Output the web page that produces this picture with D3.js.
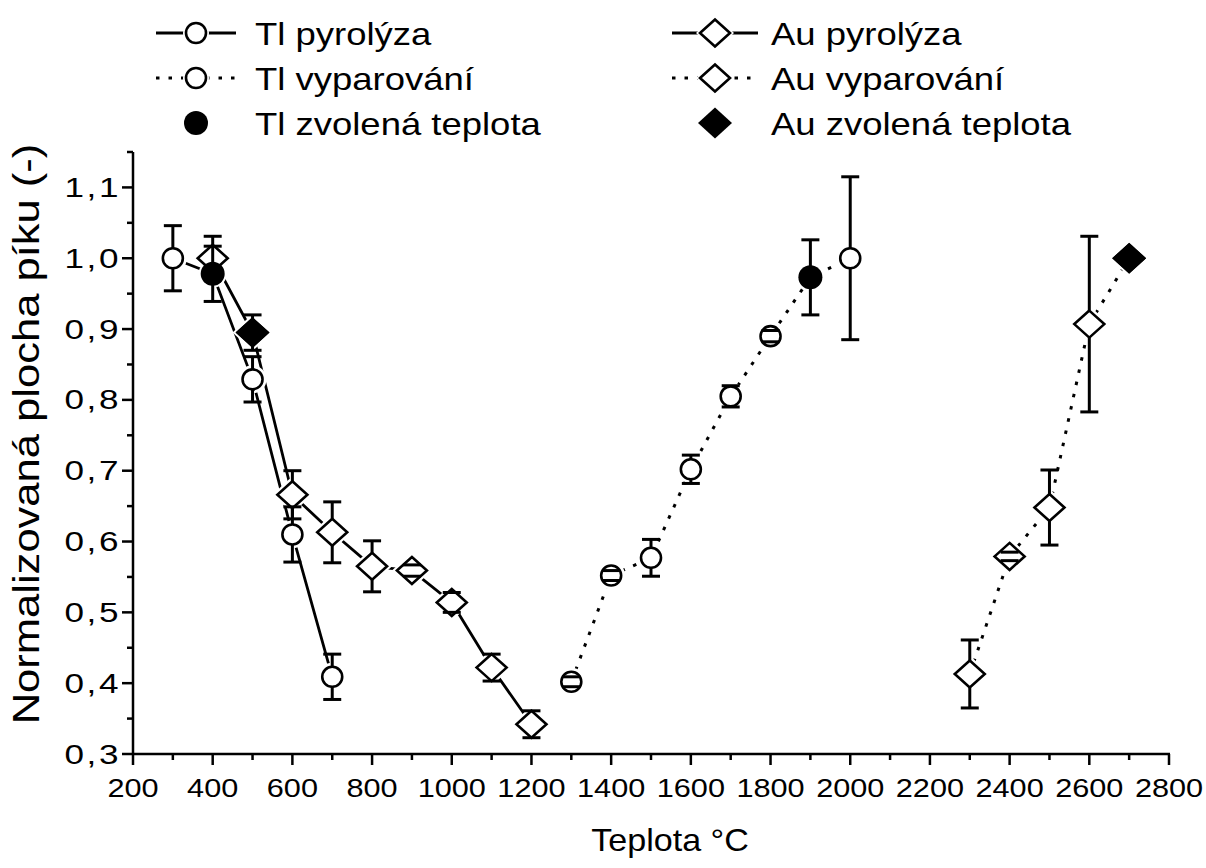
<!DOCTYPE html>
<html>
<head>
<meta charset="utf-8">
<script src="https://cdn.jsdelivr.net/npm/d3@7"></script>
<style>
  body { margin: 0; background: #fff; }
  text { font-family: "Liberation Sans", Arial, sans-serif; fill: #000; }
</style>
</head>
<body>
<div id="chart"></div>
<script>
// --- DATA ---
const tlPyroTemp = [300, 400, 500, 600, 700];
const tlPyroVal  = [1.0, 0.978, 0.829, 0.61, 0.409];
const tlPyroErr  = [0.046, 0.039, 0.032, 0.039, 0.032];

const auPyroTemp = [400, 500, 600, 700, 800, 900, 1000, 1100, 1200];
const auPyroVal  = [1.0, 0.895, 0.666, 0.613, 0.565, 0.559, 0.514, 0.422, 0.342];
const auPyroErr  = [0.031, 0.025, 0.034, 0.043, 0.036, 0.008, 0.014, 0.019, 0.019];

const tlVapTemp = [1300, 1400, 1500, 1600, 1700, 1800, 1900, 2000];
const tlVapVal  = [0.402, 0.552, 0.577, 0.702, 0.805, 0.89, 0.973, 1.0];
const tlVapErr  = [0.007, 0.007, 0.026, 0.02, 0.015, 0.008, 0.053, 0.115];

const auVapTemp = [2300, 2400, 2500, 2600, 2700];
const auVapVal  = [0.413, 0.579, 0.648, 0.907, 1.0];
const auVapErr  = [0.048, 0.006, 0.053, 0.124, 0];

// chosen temperatures (filled markers)
const tlChosenTemp = [400, 1900];
const tlChosenVal  = [0.978, 0.973];
const auChosenTemp = [500, 2700];
const auChosenVal  = [0.895, 1.0];

const xTicks = [200, 400, 600, 800, 1000, 1200, 1400, 1600, 1800, 2000, 2200, 2400, 2600, 2800];
const yTicks = [0.3, 0.4, 0.5, 0.6, 0.7, 0.8, 0.9, 1.0, 1.1];

const legendLabels = ["Tl pyrolýza", "Tl vyparování", "Tl zvolená teplota",
                      "Au pyrolýza", "Au vyparování", "Au zvolená teplota"];

// --- LAYOUT ---
const W = 1206, H = 868;
const plot = { left: 133, right: 1169, top: 152, bottom: 754 };
const fmt = d => d3.format(".1f")(d).replace(".", ",");

const svg = d3.select("#chart").append("svg").attr("width", W).attr("height", H);
svg.append("rect").attr("width", W).attr("height", H).attr("fill", "#fff");

const x = d3.scaleLinear().domain([200, 2800]).range([plot.left, plot.right]);
const y = d3.scaleLinear().domain([0.3, 1.15]).range([plot.bottom, plot.top]);

function zip(ts, vs, es) { return ts.map((t, i) => ({ t, v: vs[i], e: es ? es[i] : 0 })); }
const tlPyro = zip(tlPyroTemp, tlPyroVal, tlPyroErr);
const auPyro = zip(auPyroTemp, auPyroVal, auPyroErr);
const tlVap = zip(tlVapTemp, tlVapVal, tlVapErr);
const auVap = zip(auVapTemp, auVapVal, auVapErr);
const tlChosen = zip(tlChosenTemp, tlChosenVal);
const auChosen = zip(auChosenTemp, auChosenVal);

// marker shapes
const CR = 10;            // circle radius
const DW = 15, DH = 13.5; // diamond half width / half height
const diamond = (w, h) => `M0,${-h}L${w},0L0,${h}L${-w},0Z`;

// the source font is a bit wider than Arial, so text gets a horizontal stretch
function label(g, px, py, str, size, sx, anchor, rot) {
    const t = `translate(${px},${py})` + (rot ? ` rotate(${rot})` : "") + ` scale(${sx},1)`;
    return g.append("text").attr("transform", t).attr("font-size", size)
        .attr("text-anchor", anchor || "start").text(str);
}

// --- AXES ---
const axes = svg.append("g").attr("stroke", "#000").attr("stroke-width", 2.5);
axes.append("line").attr("x1", plot.left).attr("x2", plot.left).attr("y1", plot.top).attr("y2", plot.bottom + 1);
axes.append("line").attr("x1", plot.left - 1).attr("x2", plot.right + 1).attr("y1", plot.bottom).attr("y2", plot.bottom);

d3.range(200, 2801, 100).forEach(t => {
    const major = t % 200 === 0;
    axes.append("line").attr("x1", x(t)).attr("x2", x(t))
        .attr("y1", plot.bottom).attr("y2", plot.bottom + (major ? 11 : 6));
});
d3.range(0.3, 1.151, 0.05).forEach(v => {
    const major = Math.abs(Math.round(v * 10) - v * 10) < 1e-6;
    axes.append("line").attr("y1", y(v)).attr("y2", y(v))
        .attr("x1", plot.left).attr("x2", plot.left - (major ? 11 : 6));
});

const tickG = svg.append("g");
xTicks.forEach(t => label(tickG, x(t), 797, t, 26, 1.18, "middle"));
yTicks.forEach(v => label(tickG, 121, y(v) + 9.5, fmt(v), 27, 1.3, "end").attr("letter-spacing", 2));

label(svg, 670, 851, "Teplota °C", 31, 1.1, "middle");
label(svg, 39, 434, "Normalizovaná plocha píku (-)", 36, 1.21, "middle", -90);

// --- LINES ---
const line = d3.line().x(d => x(d.t)).y(d => y(d.v));
const lineG = svg.append("g").attr("fill", "none").attr("stroke", "#000");
[tlPyro, auPyro].forEach(s => lineG.append("path").datum(s).attr("d", line).attr("stroke-width", 2.8));
[tlVap, auVap].forEach(s => lineG.append("path").datum(s).attr("d", line)
    .attr("stroke-width", 3).attr("stroke-dasharray", "3.5,9"));

// white halos give the gap between line and marker
const haloG = svg.append("g").attr("fill", "#fff");
[...tlPyro, ...tlVap].forEach(d => haloG.append("circle").attr("cx", x(d.t)).attr("cy", y(d.v)).attr("r", CR + 4));
[...auPyro, ...auVap].forEach(d => haloG.append("path").attr("transform", `translate(${x(d.t)},${y(d.v)})`)
    .attr("d", diamond(DW + 5, DH + 5)));

// --- MARKERS ---
const markG = svg.append("g").attr("stroke", "#000").attr("stroke-width", 2.6);
[...tlPyro, ...tlVap].forEach(d => markG.append("circle").attr("cx", x(d.t)).attr("cy", y(d.v))
    .attr("r", CR).attr("fill", "#fff"));
[...auPyro, ...auVap].forEach(d => markG.append("path").attr("transform", `translate(${x(d.t)},${y(d.v)})`)
    .attr("d", diamond(DW, DH)).attr("fill", "#fff").attr("stroke-linejoin", "miter"));

// --- ERROR BARS (drawn from the marker edge out, caps always on top) ---
const errG = svg.append("g").attr("stroke", "#000").attr("stroke-width", 3);
function errorBars(data, half) {
    data.filter(d => d.e > 0).forEach(d => {
        const cx = x(d.t), cy = y(d.v), top = y(d.v + d.e), bot = y(d.v - d.e);
        if (cy - top > half) errG.append("line").attr("x1", cx).attr("x2", cx).attr("y1", top).attr("y2", cy - half);
        if (bot - cy > half) errG.append("line").attr("x1", cx).attr("x2", cx).attr("y1", cy + half).attr("y2", bot);
        [top, bot].forEach(yy => errG.append("line").attr("x1", cx - 9).attr("x2", cx + 9).attr("y1", yy).attr("y2", yy));
    });
}
errorBars(tlPyro, CR);
errorBars(tlVap, CR);
errorBars(auPyro, DH);
errorBars(auVap, DH);

// filled markers on top
const fillG = svg.append("g").attr("fill", "#000");
tlChosen.forEach(d => fillG.append("circle").attr("cx", x(d.t)).attr("cy", y(d.v)).attr("r", CR + 2));
auChosen.forEach(d => fillG.append("path").attr("transform", `translate(${x(d.t)},${y(d.v)})`)
    .attr("d", diamond(DW + 2, DH + 2)));

// --- LEGEND ---
const legend = svg.append("g");
const rows = [33, 78, 123];
const cols = [{ x0: 156, x1: 236, m: 196, tx: 255, shape: "circle" },
              { x0: 672, x1: 758, m: 715, tx: 771, shape: "diamond" }];
cols.forEach((c, ci) => {
    rows.forEach((ry, ri) => {
        if (ri < 2) {
            const ln = legend.append("line").attr("x1", c.x0).attr("x2", c.x1).attr("y1", ry).attr("y2", ry)
                .attr("stroke", "#000").attr("stroke-width", ri === 0 ? 2.8 : 3);
            if (ri === 1) ln.attr("stroke-dasharray", "3.5,9");
        }
        const filled = ri === 2;
        if (c.shape === "circle") {
            if (!filled) legend.append("circle").attr("cx", c.m).attr("cy", ry).attr("r", CR + 3).attr("fill", "#fff");
            legend.append("circle").attr("cx", c.m).attr("cy", ry).attr("r", filled ? CR + 2 : CR)
                .attr("fill", filled ? "#000" : "#fff").attr("stroke", filled ? "none" : "#000").attr("stroke-width", 2.6);
        } else {
            if (!filled) legend.append("path").attr("transform", `translate(${c.m},${ry})`).attr("d", diamond(DW + 4, DH + 4)).attr("fill", "#fff");
            legend.append("path").attr("transform", `translate(${c.m},${ry})`)
                .attr("d", filled ? diamond(DW + 2, DH + 2) : diamond(DW, DH))
                .attr("fill", filled ? "#000" : "#fff").attr("stroke", filled ? "none" : "#000").attr("stroke-width", 2.6);
        }
        label(legend, c.tx, ry + 11.5, legendLabels[ci * 3 + ri], 32, 1.14, "start");
    });
});
</script>
</body>
</html>
